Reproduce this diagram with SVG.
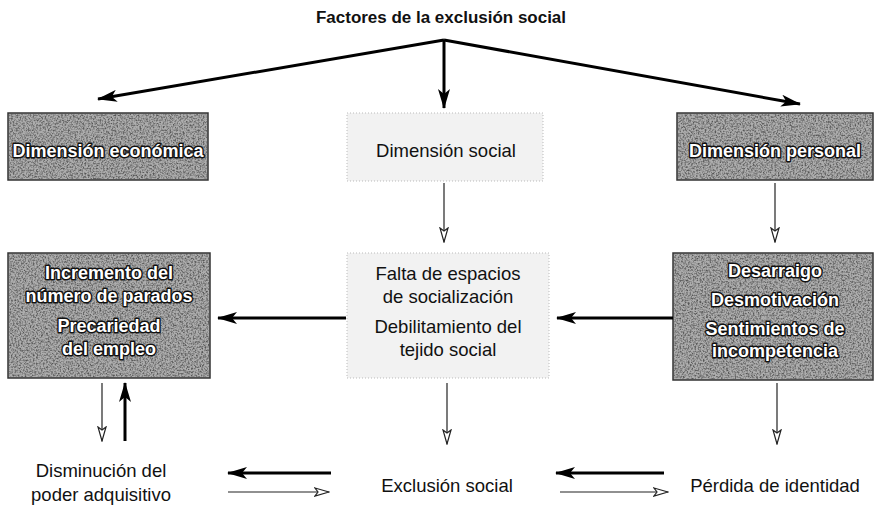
<svg xmlns="http://www.w3.org/2000/svg" width="878" height="509" viewBox="0 0 878 509">
<style>
.t{font-family:"Liberation Sans",Arial,sans-serif;font-size:18.5px;fill:#111;text-anchor:middle}
.title{font-family:"Liberation Sans",Arial,sans-serif;font-size:16px;fill:#111;text-anchor:middle;font-weight:bold}
.dk{fill:#adadad;stroke:#333;stroke-width:1.5}
.lt{fill:#f2f2f2;stroke:#bbb;stroke-width:1;stroke-dasharray:1 2}
.wt{font-family:"Liberation Sans",Arial,sans-serif;font-size:18px;font-weight:bold;fill:#fff;stroke:#111;stroke-width:2.8;paint-order:stroke;stroke-linejoin:round;text-anchor:middle}
.thick{stroke:#000;stroke-width:3;fill:none}
.thin{stroke:#222;stroke-width:1.2;fill:none}
.tex{fill:#555}
</style>
<defs>
<filter id="noise" x="0" y="0" width="100%" height="100%">
<feTurbulence type="fractalNoise" baseFrequency="0.6" numOctaves="3" seed="3" result="n"/>
<feColorMatrix in="n" type="matrix" values="0 0 0 0 0  0 0 0 0 0  0 0 0 0 0  0 0 0 -2.4 1.45" result="a"/>
<feComposite in="SourceGraphic" in2="a" operator="in"/>
</filter>
<marker id="filled" viewBox="0 0 20 12" refX="19" refY="6" markerWidth="20" markerHeight="12" orient="auto" markerUnits="userSpaceOnUse">
<path d="M0,0 L20,6 L0,12 L5,6 Z" fill="#000"/>
</marker>
<marker id="open" viewBox="0 0 16 10" refX="15" refY="5" markerWidth="16" markerHeight="10" orient="auto" markerUnits="userSpaceOnUse">
<path d="M1,1 L15,5 L1,9 L4,5 Z" fill="#fff" stroke="#222" stroke-width="1.2"/>
</marker>
</defs>

<g id="title"><text class="title" x="441" y="23" textLength="250" lengthAdjust="spacingAndGlyphs">Factores de la exclusión social</text></g>

<g id="dim-economica">
<rect class="dk" x="8" y="113" width="200" height="67"/>
<rect class="tex" x="9" y="114" width="198" height="65" filter="url(#noise)"/>
<text class="wt" x="108" y="157">Dimensión económica</text>
</g>
<g id="dim-social">
<rect class="lt" x="347" y="113" width="196" height="68"/>
<text class="t" x="446" y="157">Dimensión social</text>
</g>
<g id="dim-personal">
<rect class="dk" x="677" y="113" width="196" height="67"/>
<rect class="tex" x="678" y="114" width="194" height="65" filter="url(#noise)"/>
<text class="wt" x="775" y="157">Dimensión personal</text>
</g>

<g id="economica-detalle">
<rect class="dk" x="8" y="253" width="202" height="125"/>
<rect class="tex" x="9" y="254" width="200" height="123" filter="url(#noise)"/>
<text class="wt" x="109" y="279">Incremento del</text>
<text class="wt" x="109" y="302">número de parados</text>
<text class="wt" x="109" y="332">Precariedad</text>
<text class="wt" x="109" y="355">del empleo</text>
</g>
<g id="social-detalle">
<rect class="lt" x="347" y="253" width="202" height="125"/>
<text class="t" x="448" y="280">Falta de espacios</text>
<text class="t" x="448" y="303">de socialización</text>
<text class="t" x="448" y="333">Debilitamiento del</text>
<text class="t" x="448" y="356">tejido social</text>
</g>
<g id="personal-detalle">
<rect class="dk" x="673" y="253" width="200" height="127"/>
<rect class="tex" x="674" y="254" width="198" height="125" filter="url(#noise)"/>
<text class="wt" x="775" y="277">Desarraigo</text>
<text class="wt" x="775" y="306">Desmotivación</text>
<text class="wt" x="775" y="335">Sentimientos de</text>
<text class="wt" x="775" y="357">incompetencia</text>
</g>

<g id="disminucion"><text class="t" x="101" y="477">Disminución del</text><text class="t" x="101" y="501">poder adquisitivo</text></g>
<g id="exclusion"><text class="t" x="447" y="492">Exclusión social</text></g>
<g id="perdida"><text class="t" x="775" y="492">Pérdida de identidad</text></g>

<g id="connectors">
<line class="thick" x1="444" y1="40" x2="98" y2="99" marker-end="url(#filled)"/>
<line class="thick" x1="444" y1="40" x2="444" y2="108" marker-end="url(#filled)"/>
<line class="thick" x1="444" y1="40" x2="800" y2="104" marker-end="url(#filled)"/>
<line class="thin" x1="444" y1="183" x2="444" y2="242" marker-end="url(#open)"/>
<line class="thin" x1="775" y1="183" x2="775" y2="242" marker-end="url(#open)"/>
<line class="thick" x1="673" y1="318" x2="557" y2="318" marker-end="url(#filled)"/>
<line class="thick" x1="346" y1="318" x2="218" y2="318" marker-end="url(#filled)"/>
<line class="thin" x1="102" y1="383" x2="102" y2="441" marker-end="url(#open)"/>
<line class="thick" x1="125" y1="441" x2="125" y2="383" marker-end="url(#filled)"/>
<line class="thin" x1="447" y1="383" x2="447" y2="444" marker-end="url(#open)"/>
<line class="thin" x1="777" y1="383" x2="777" y2="444" marker-end="url(#open)"/>
<line class="thick" x1="331" y1="473" x2="228" y2="473" marker-end="url(#filled)"/>
<line class="thin" x1="228" y1="492" x2="329" y2="492" marker-end="url(#open)"/>
<line class="thick" x1="664" y1="473" x2="556" y2="473" marker-end="url(#filled)"/>
<line class="thin" x1="560" y1="492" x2="668" y2="492" marker-end="url(#open)"/>
</g>
</svg>
